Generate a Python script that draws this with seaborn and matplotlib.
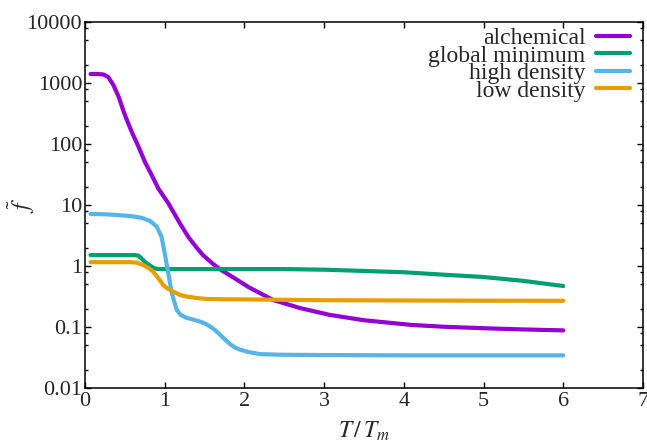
import numpy as np
import pandas as pd
import matplotlib
matplotlib.use('Agg')
import matplotlib.pyplot as plt
import matplotlib.ticker as mticker
import seaborn as sns

# values (T/Tm, f~)
alch_t = [0.07, 0.15, 0.23, 0.29, 0.355, 0.42, 0.5, 0.586, 0.67, 0.75, 0.837, 0.92,
          1.045, 1.13, 1.19, 1.3, 1.4, 1.48, 1.6, 1.69, 1.9, 2.05, 2.36, 2.7, 3.07,
          3.5, 4.1, 4.5, 5.0, 5.5, 6.0]
alch_f = [1406, 1406, 1380, 1259, 933, 603, 299, 158, 91.2, 51.3, 30.9, 18.6,
          10.7, 6.86, 5.01, 2.95, 2.0, 1.51, 1.10, 0.89, 0.603, 0.452, 0.277, 0.204, 0.158,
          0.129, 0.108, 0.101, 0.0955, 0.0912, 0.088]

glob_t = [0.07, 0.3, 0.55, 0.62, 0.67, 0.71, 0.75, 0.8, 0.837, 0.87, 0.9, 0.96,
          1.1, 1.5, 2.0, 2.5, 3.0, 3.5, 4.0, 4.5, 5.0, 5.5, 6.0]
glob_f = [1.51, 1.51, 1.51, 1.51, 1.48, 1.33, 1.17, 1.05, 0.977, 0.923, 0.897, 0.89,
          0.89, 0.89, 0.89, 0.89, 0.87, 0.83, 0.79, 0.72, 0.66, 0.57, 0.47]

high_t = [0.07, 0.2, 0.35, 0.565, 0.71, 0.815, 0.9, 0.96, 1.0, 1.045, 1.09, 1.15,
          1.2, 1.275, 1.36, 1.44, 1.5, 1.57, 1.63, 1.69, 1.76, 1.82, 1.88, 1.94,
          2.05, 2.2, 2.45, 3.0, 4.0, 5.0, 6.0]
high_f = [7.11, 7.08, 6.92, 6.61, 6.17, 5.5, 4.42, 3.02, 1.62, 0.759, 0.355, 0.191,
          0.158, 0.141, 0.132, 0.123, 0.115, 0.102, 0.0891, 0.0759, 0.0617, 0.0525, 0.0462, 0.0427,
          0.0389, 0.0359, 0.0351, 0.0347, 0.0343, 0.0343, 0.0343]

low_t = [0.07, 0.3, 0.565, 0.65, 0.73, 0.8, 0.857, 0.92, 0.98, 1.04, 1.11, 1.19,
         1.275, 1.4, 1.53, 1.75, 2.03, 2.5, 3.0, 4.0, 5.0, 6.0]
low_f = [1.156, 1.156, 1.156, 1.135, 1.038, 0.923, 0.805, 0.631, 0.49, 0.422, 0.38, 0.335,
         0.316, 0.299, 0.288, 0.285, 0.283, 0.279, 0.275, 0.272, 0.27, 0.269]

labels = ['alchemical', 'global minimum', 'high density', 'low density']
colors = ['#9400d3', '#009e73', '#56b4e9', '#e69f00']

df = pd.concat([
    pd.DataFrame({'T': alch_t, 'f': alch_f, 'phase': labels[0]}),
    pd.DataFrame({'T': glob_t, 'f': glob_f, 'phase': labels[1]}),
    pd.DataFrame({'T': high_t, 'f': high_f, 'phase': labels[2]}),
    pd.DataFrame({'T': low_t, 'f': low_f, 'phase': labels[3]}),
], ignore_index=True)

sns.set_style('ticks')
plt.rcParams['font.family'] = ['Liberation Serif', 'DejaVu Serif']
plt.rcParams['mathtext.fontset'] = 'stix'

fig = plt.figure(figsize=(6.47, 4.42), dpi=100)
ax = fig.add_axes([85/647, 1-388/442, 558/647, 366/442])

sns.lineplot(data=df, x='T', y='f', hue='phase', hue_order=labels,
             palette=colors, linewidth=3, ax=ax, sort=False, estimator=None)
for ln in ax.get_lines():
    ln.set_solid_joinstyle('round')

ax.set_yscale('log')
ax.set_xlim(0, 7)
ax.set_ylim(0.01, 10000)
ax.xaxis.set_major_locator(mticker.MultipleLocator(1))
ax.yaxis.set_major_locator(mticker.LogLocator(base=10, numticks=10))
ax.yaxis.set_minor_locator(mticker.LogLocator(base=10, subs=[2, 5, 8], numticks=10))
ax.yaxis.set_minor_formatter(mticker.NullFormatter())
ax.yaxis.set_major_formatter(mticker.FuncFormatter(lambda v, p: '%g' % v))

for s in ax.spines.values():
    s.set_linewidth(1.1)
    s.set_color('black')
ax.tick_params(which='both', direction='in', top=True, right=True,
               labelsize=16, width=1, color='black')
ax.tick_params(which='major', length=4.5)
ax.tick_params(which='minor', length=2.5)
ax.tick_params(axis='x', pad=3)
ax.tick_params(axis='y', pad=2)

ax.set_xlabel(r'$T\,/\,T_m$', fontsize=17, labelpad=6)
ax.set_ylabel(r'$\tilde{f}$', fontsize=17)
ax.yaxis.set_label_coords(-0.086, 0.5)

leg = ax.legend(loc='upper right', bbox_to_anchor=(0.977, 0.985), frameon=False,
                markerfirst=False, fontsize=17, handlelength=1.45, handletextpad=0.45,
                labelspacing=-0.17, borderpad=0, borderaxespad=0)
for ln in leg.get_lines():
    ln.set_linewidth(3)
# right-align rows like gnuplot's key
for col in leg._legend_box.get_children()[-1].get_children():
    col.align = 'right'

fig.savefig('out.png', dpi=100)
